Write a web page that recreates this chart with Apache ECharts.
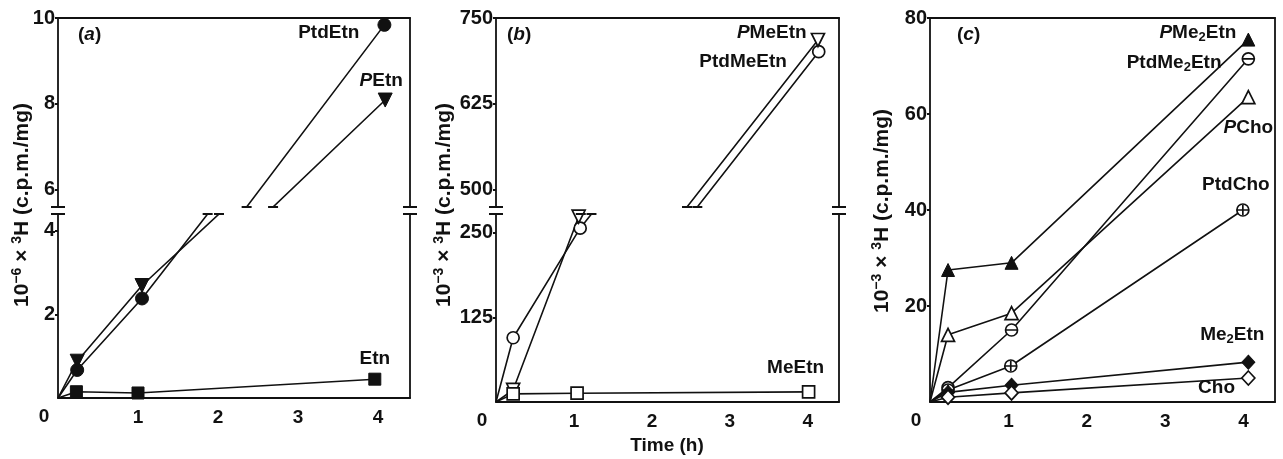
<!DOCTYPE html>
<html><head><meta charset="utf-8">
<script src="https://cdn.jsdelivr.net/npm/echarts@6/dist/echarts.min.js"></script>
<style>html,body{margin:0;padding:0;background:#fff}#c{width:1283px;height:459px}</style>
</head><body><div id="c"></div>
<script>
// ---------------- data ----------------
const timeTicks = [0, 1, 2, 3, 4];
const aTicksUpper = [6, 8, 10];
const aTicksLower = [2, 4];
const bTicksUpper = [500, 625, 750];
const bTicksLower = [125, 250];
const cTicks = [20, 40, 60, 80];

// panel (a)  10^-6 x 3H (c.p.m./mg)
const aPtdEtnX = [0, 0.24, 1.05, 4.08];
const aPtdEtnY = [0, 0.67, 2.38, 9.84];
const aPEtnX = [0, 0.24, 1.05, 4.09];
const aPEtnY = [0, 0.88, 2.69, 8.09];
const aEtnX = [0, 0.23, 1.0, 3.96];
const aEtnY = [0, 0.15, 0.12, 0.45];

// panel (b)  10^-3 x 3H (c.p.m./mg)
const bPtdMeEtnX = [0, 0.22, 1.08, 4.14];
const bPtdMeEtnY = [0, 95, 257, 701];
const bPMeEtnX = [0, 0.22, 1.06, 4.13];
const bPMeEtnY = [0, 18, 274, 718];
const bMeEtnX = [0, 0.22, 1.04, 4.01];
const bMeEtnY = [0, 12, 13, 15];

// panel (c)  10^-3 x 3H (c.p.m./mg)
const cX = [0, 0.23, 1.04, 4.06];
const cPtdChoX = [0, 0.23, 1.03, 3.99];
const cPMe2EtnY = [0, 27.5, 29, 75.5];
const cPtdMe2EtnY = [0, 3, 15, 71.5];
const cPChoY = [0, 14, 18.5, 63.5];
const cPtdChoY = [0, 2.5, 7.5, 40];
const cMe2EtnY = [0, 2, 3.5, 8.3];
const cChoY = [0, 1, 1.9, 5];

// ---------------- layout ----------------
const INK = '#111';
const FONT = '"Liberation Sans", Arial, Helvetica, sans-serif';
const FS = 19;
const A = {left: 58, width: 352, uTop: 18, uH: 189, lTop: 214, lH: 184, uMin: 5.6, uMax: 10, lMin: 0, lMax: 4.4};
const B = {left: 496, width: 343, uTop: 18, uH: 189, lTop: 214, lH: 188, uMin: 475, uMax: 750, lMin: 0, lMax: 278};
const C = {left: 930, width: 345, top: 18, h: 384, min: 0, max: 80};
const XMAX = 4.4;

const rich = {
  i: {fontStyle: 'italic', fontSize: FS, fontWeight: 'bold', fontFamily: FONT, color: INK, lineHeight: 22},
  s: {fontSize: 13, fontWeight: 'bold', fontFamily: FONT, color: INK, verticalAlign: 'bottom', lineHeight: 12},
  t: {fontSize: 14, fontWeight: 'bold', fontFamily: FONT, color: INK, verticalAlign: 'top', lineHeight: 12},
  n: {fontSize: FS, fontWeight: 'bold', fontFamily: FONT, color: INK, lineHeight: 22},
  y: {fontSize: 21, fontWeight: 'bold', fontFamily: FONT, color: INK, lineHeight: 24},
  z: {fontSize: FS, fontWeight: 'bold', fontFamily: FONT, color: INK, padding: [0, 28, 0, 0]}
};

const grids = [
  {left: A.left, top: A.uTop, width: A.width, height: A.uH},
  {left: A.left, top: A.lTop, width: A.width, height: A.lH},
  {left: B.left, top: B.uTop, width: B.width, height: B.uH},
  {left: B.left, top: B.lTop, width: B.width, height: B.lH},
  {left: C.left, top: C.top, width: C.width, height: C.h}
];

const axisLine = {show: true, onZero: false, lineStyle: {color: INK, width: 1.8}};
function xAx(gi, pos, labels) {
  return {
    type: 'value', gridIndex: gi, position: pos, min: 0, max: XMAX,
    axisLine: axisLine, splitLine: {show: false},
    axisTick: {show: false},
    axisLabel: labels ? {
      show: true, customValues: timeTicks, margin: 9,
      formatter: v => v === 0 ? '{z|0}' : '{n|' + v + '}', rich: rich
    } : {show: false}
  };
}
function yLeft(gi, min, max, ticks) {
  return {
    type: 'value', gridIndex: gi, position: 'left', min: min, max: max,
    axisLine: axisLine, splitLine: {show: false},
    axisTick: {show: true, customValues: ticks, length: 3, lineStyle: {color: INK, width: 2}},
    axisLabel: {show: true, customValues: ticks, margin: 3, color: INK, fontSize: FS + 1, fontWeight: 'bold', fontFamily: FONT}
  };
}
function yRight(gi) {
  return {type: 'value', gridIndex: gi, position: 'right', min: 0, max: 1,
    axisLine: axisLine, splitLine: {show: false}, axisTick: {show: false}, axisLabel: {show: false}};
}

const xAxis = [xAx(0, 'top', false), xAx(1, 'bottom', true), xAx(2, 'top', false), xAx(3, 'bottom', true), xAx(4, 'bottom', true), xAx(4, 'top', false)];
const yAxis = [
  yLeft(0, A.uMin, A.uMax, aTicksUpper), yRight(0),
  yLeft(1, A.lMin, A.lMax, aTicksLower), yRight(1),
  yLeft(2, B.uMin, B.uMax, bTicksUpper), yRight(2),
  yLeft(3, B.lMin, B.lMax, bTicksLower), yRight(3),
  yLeft(4, C.min, C.max, cTicks), yRight(4)
];

const circMinus = 'path://M0,10A10,10,0,1,1,20,10A10,10,0,1,1,0,10Z M1.5,10L18.5,10';
const circPlus = 'path://M0,10A10,10,0,1,1,20,10A10,10,0,1,1,0,10Z M1.5,10L18.5,10 M10,1.5L10,18.5';

const M = {
  fCircle: {symbol: 'circle', size: 13, fill: INK, bw: 1},
  fTriDown: {symbol: 'triangle', size: 14, rotate: 180, fill: INK, bw: 1},
  fSquare: {symbol: 'rect', size: 12, fill: INK, bw: 1},
  oCircle: {symbol: 'circle', size: 12, fill: '#fff', bw: 1.7},
  oTriDown: {symbol: 'triangle', size: 13, rotate: 180, fill: '#fff', bw: 1.7},
  oSquare: {symbol: 'rect', size: 12, fill: '#fff', bw: 1.7},
  fTri: {symbol: 'triangle', size: 13, fill: INK, bw: 1},
  oTri: {symbol: 'triangle', size: 13, fill: '#fff', bw: 1.7},
  cMinus: {symbol: circMinus, size: 12, fill: '#fff', bw: 1.7},
  cPlus: {symbol: circPlus, size: 12, fill: '#fff', bw: 1.7},
  fDia: {symbol: 'diamond', size: [13, 14], fill: INK, bw: 1},
  oDia: {symbol: 'diamond', size: [13, 14], fill: '#fff', bw: 1.7}
};

function lab(text, position, distance, offset) {
  return {show: true, formatter: text, position: position, distance: distance, offset: offset,
    rich: rich, color: INK, fontSize: FS, fontWeight: 'bold', fontFamily: FONT};
}
function pts(xs, ys, label) {
  return xs.map((x, i) => {
    const d = {value: [x, ys[i]]};
    if (i === 0) d.symbol = 'none';
    if (i === xs.length - 1 && label) d.label = label;
    return d;
  });
}
function ser(gi, xi, xs, ys, m, label) {
  return {
    type: 'line', xAxisIndex: xi, yAxisIndex: 2 * gi, data: pts(xs, ys, label),
    symbol: m.symbol, symbolSize: m.size, symbolRotate: m.rotate || 0, symbolKeepAspect: true,
    itemStyle: {color: m.fill, borderColor: INK, borderWidth: m.bw},
    lineStyle: {color: INK, width: 1.6}, clip: true, animation: false, silent: true, z: 3
  };
}

const L = {
  aPtdEtn: lab('{n|PtdEtn}', 'left', 18, [0, 8]),
  aPEtn: lab('{i|P}{n|Etn}', 'top', 1, [-4, 0]),
  aEtn: lab('{n|Etn}', 'top', 3, [0, 0]),
  bPMeEtn: lab('{i|P}{n|MeEtn}', 'left', 4, [0, -7]),
  bPtdMeEtn: lab('{n|PtdMeEtn}', 'left', 25, [0, 10]),
  bMeEtn: lab('{n|MeEtn}', 'top', 6, [-13, 0]),
  cPMe2Etn: lab('{i|P}{n|Me}{s|2}{n|Etn}', 'left', 5, [0, -7]),
  cPtdMe2Etn: lab('{n|PtdMe}{s|2}{n|Etn}', 'left', 20, [0, 4]),
  cPCho: lab('{i|P}{n|Cho}', 'bottom', 12, [0, 0]),
  cPtdCho: lab('{n|PtdCho}', 'top', 7, [-7, 0]),
  cMe2Etn: lab('{n|Me}{s|2}{n|Etn}', 'top', 9, [-16, 0]),
  cCho: lab('{n|Cho}', 'left', 6, [0, 10])
};

const series = [];
// (a) upper grid 0 / lower grid 1
[[0, 0], [1, 1]].forEach(([g, xi]) => {
  series.push(ser(g, xi, aPtdEtnX, aPtdEtnY, M.fCircle, L.aPtdEtn));
  series.push(ser(g, xi, aPEtnX, aPEtnY, M.fTriDown, L.aPEtn));
  series.push(ser(g, xi, aEtnX, aEtnY, M.fSquare, L.aEtn));
});
// (b) upper grid 2 / lower grid 3
[[2, 2], [3, 3]].forEach(([g, xi]) => {
  series.push(ser(g, xi, bPtdMeEtnX, bPtdMeEtnY, M.oCircle, L.bPtdMeEtn));
  series.push(ser(g, xi, bPMeEtnX, bPMeEtnY, M.oTriDown, L.bPMeEtn));
  series.push(ser(g, xi, bMeEtnX, bMeEtnY, M.oSquare, L.bMeEtn));
});
// (c)
series.push(ser(4, 4, cX, cPMe2EtnY, M.fTri, L.cPMe2Etn));
series.push(ser(4, 4, cX, cPtdMe2EtnY, M.cMinus, L.cPtdMe2Etn));
series.push(ser(4, 4, cX, cPChoY, M.oTri, L.cPCho));
series.push(ser(4, 4, cPtdChoX, cPtdChoY, M.cPlus, L.cPtdCho));
series.push(ser(4, 4, cX, cMe2EtnY, M.fDia, L.cMe2Etn));
series.push(ser(4, 4, cX, cChoY, M.oDia, L.cCho));

// ---------------- decorations ----------------
const graphic = [];
function brk(x, y1, y2) {
  [y1, y2].forEach(y => graphic.push({type: 'line', silent: true,
    shape: {x1: x - 7, y1: y, x2: x + 7, y2: y}, style: {stroke: INK, lineWidth: 2}}));
}
brk(A.left, A.uTop + A.uH, A.lTop); brk(A.left + A.width, A.uTop + A.uH, A.lTop);
brk(B.left, B.uTop + B.uH, B.lTop); brk(B.left + B.width, B.uTop + B.uH, B.lTop);

function txt(x, y, text, rot, align) {
  graphic.push({type: 'text', x: x, y: y, rotation: rot || 0, silent: true,
    style: {text: text, rich: rich, align: align || 'center', verticalAlign: 'middle',
      fill: INK, font: 'bold ' + FS + 'px ' + FONT}});
}
const yName6 = '{y|10}{t|−6}{y| × }{t|3}{y|H (c.p.m./mg)}';
const yName3 = '{y|10}{t|−3}{y| × }{t|3}{y|H (c.p.m./mg)}';
txt(22, 205, yName6, Math.PI / 2);
txt(444, 205, yName3, Math.PI / 2);
txt(882, 211, yName3, Math.PI / 2);
txt(78, 35, '{n|(}{i|a}{n|)}', 0, 'left');
txt(507, 35, '{n|(}{i|b}{n|)}', 0, 'left');
txt(957, 35, '{n|(}{i|c}{n|)}', 0, 'left');
txt(667, 446, '{n|Time (h)}', 0, 'center');

const chart = echarts.init(document.getElementById('c'), null, {renderer: 'canvas'});
chart.setOption({
  animation: false,
  backgroundColor: '#fff',
  textStyle: {fontFamily: FONT, color: INK},
  grid: grids, xAxis: xAxis, yAxis: yAxis, series: series, graphic: graphic
});

// small caps where the data lines are cut by the axis break
function caps(xs, ys, loMax, upMin, gLo, gUp) {
  const out = [];
  for (let i = 0; i < xs.length - 1; i++) {
    const y0 = ys[i], y1 = ys[i + 1];
    if (y0 < loMax && y1 > upMin) {
      [[loMax, gLo], [upMin, gUp]].forEach(([v, g]) => {
        const x = xs[i] + (v - y0) / (y1 - y0) * (xs[i + 1] - xs[i]);
        const p = chart.convertToPixel({gridIndex: g}, [x, v]);
        out.push({type: 'line', silent: true, z: 10,
          shape: {x1: p[0] - 5, y1: p[1], x2: p[0] + 5, y2: p[1]}, style: {stroke: INK, lineWidth: 2}});
      });
    }
  }
  return out;
}
const capG = [].concat(
  caps(aPtdEtnX, aPtdEtnY, A.lMax, A.uMin, 1, 0),
  caps(aPEtnX, aPEtnY, A.lMax, A.uMin, 1, 0),
  caps(bPtdMeEtnX, bPtdMeEtnY, B.lMax, B.uMin, 3, 2),
  caps(bPMeEtnX, bPMeEtnY, B.lMax, B.uMin, 3, 2)
);
chart.setOption({graphic: graphic.concat(capG)});
</script></body></html>
